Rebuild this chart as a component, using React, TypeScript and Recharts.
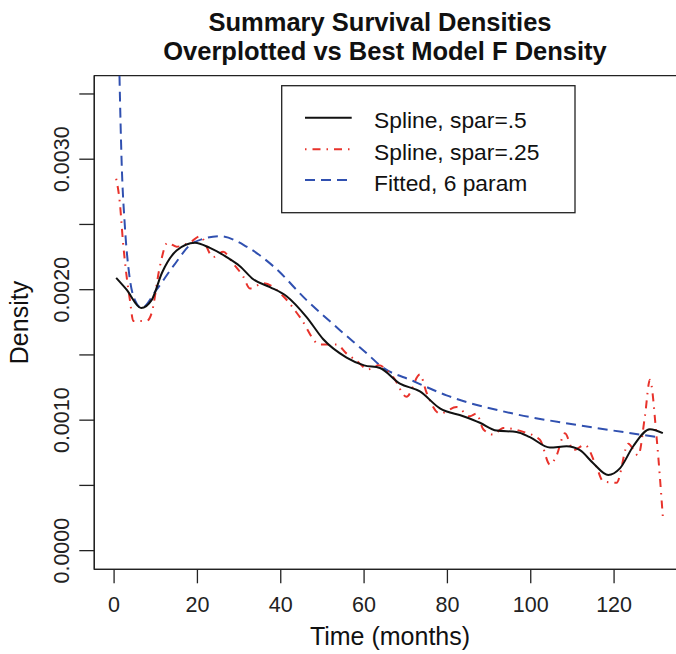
import { Line, LineChart, ReferenceArea, XAxis, YAxis } from "recharts";

// months on the x axis, density on the y axis
const smoothT = [0.5, 3.0, 6.5, 9.0, 11.5, 15.0, 19.4, 23.0, 27.0, 30.2, 33.4, 37.4, 41.4, 46.2, 50.2, 55.8, 60.0, 63.8, 68.6, 73.4, 78.2, 83.8, 87.8, 91.8, 96.6, 99.8, 104.6, 108.6, 111.8, 115.0, 118.6, 121.4, 124.6, 128.6, 131.7];
const smoothV = [0.00209, 0.002, 0.00186, 0.00192, 0.00213, 0.0023, 0.00236, 0.00232, 0.00225, 0.00218, 0.00208, 0.00202, 0.00195, 0.00179, 0.00162, 0.00148, 0.00142, 0.0014, 0.00128, 0.00122, 0.00109, 0.00103, 0.00098, 0.00092, 0.00091, 0.00087, 0.00079, 0.0008, 0.00077, 0.00067, 0.00058, 0.00063, 0.0008, 0.00093, 0.0009];

const roughT = [0.5, 1.4, 2.1, 2.9, 3.8, 4.6, 7.8, 9.0, 11.0, 12.8, 15.0, 18.6, 20.6, 23.8, 26.2, 28.6, 31.0, 32.6, 35.8, 40.6, 44.6, 49.4, 53.4, 55.8, 58.0, 61.0, 63.5, 67.0, 70.2, 73.4, 75.0, 78.2, 82.2, 85.4, 87.0, 88.6, 91.0, 93.4, 98.2, 102.2, 104.6, 106.2, 108.2, 110.2, 113.0, 115.8, 117.4, 120.6, 123.4, 125.8, 127.4, 128.6, 130.2, 131.7];
const roughV = [0.00285, 0.00266, 0.00238, 0.00213, 0.00192, 0.00176, 0.00176, 0.00182, 0.00218, 0.00236, 0.00233, 0.00237, 0.00241, 0.00225, 0.00229, 0.0022, 0.0021, 0.00201, 0.00205, 0.00195, 0.00179, 0.00158, 0.00158, 0.00151, 0.00146, 0.00139, 0.00142, 0.00133, 0.00118, 0.00135, 0.00121, 0.00105, 0.0011, 0.00103, 0.00105, 0.00093, 0.00089, 0.00094, 0.00091, 0.00085, 0.00066, 0.00073, 0.0009, 0.00077, 0.00081, 0.00064, 0.00053, 0.00052, 0.00082, 0.00073, 0.00103, 0.00131, 0.00087, 0.00026];

const fittedT = [0.8, 1.3, 1.8, 2.6, 3.7, 5.0, 6.6, 10.2, 14.2, 19.0, 25.4, 31.8, 38.2, 46.2, 54.2, 61.4, 63.8, 71.8, 79.8, 95.8, 111.8, 130.6];
const fittedV = [0.0045, 0.00363, 0.00299, 0.00248, 0.0021, 0.00192, 0.00186, 0.002, 0.00218, 0.00236, 0.00241, 0.00233, 0.00218, 0.00192, 0.00169, 0.00149, 0.00142, 0.0013, 0.00119, 0.00105, 0.00096, 0.00087];

const xTicks = [0, 20, 40, 60, 80, 100, 120];
const yTicks = [0, 0.0005, 0.001, 0.0015, 0.002, 0.0025, 0.003, 0.0035];
const yLabelled = ["0.0000", "", "0.0010", "", "0.0020", "", "0.0030", ""];

const legendLabels = ["Spline, spar=.5", "Spline, spar=.25", "Fitted, 6 param"];

const X_DOMAIN: [number, number] = [-4.75, 136.95];
const Y_DOMAIN: [number, number] = [-0.000143, 0.00364];

const FONT = "'Liberation Sans', Arial, Helvetica, sans-serif";
const RED = "#e8322b";
const BLUE = "#3050b0";

const toRows = (t: number[], v: number[]) => t.map((x, i) => ({ t: x, v: v[i] }));

function XTick({ x, y, payload }: any) {
  return (
    <text x={x} y={y + 29} textAnchor="middle" fontSize={21.5} fontFamily={FONT} fill="#222">
      {payload.value}
    </text>
  );
}

function YTick({ x, y, payload, index }: any) {
  const label = yLabelled[index] ?? "";
  if (!label) return null;
  const bx = x - 10;
  return (
    <text x={bx} y={y} transform={`rotate(-90 ${bx} ${y})`} textAnchor="middle" fontSize={21.5} fontFamily={FONT} fill="#222">
      {label}
    </text>
  );
}

export default function App() {
  const smooth = toRows(smoothT, smoothV);
  const rough = toRows(roughT, roughV);
  const fitted = toRows(fittedT, fittedV);
  const legendY = [117.7, 149.3, 180];
  const legendStyle = [
    { stroke: "#111", dash: undefined },
    { stroke: RED, dash: "1.5 6 8 6" },
    { stroke: BLUE, dash: "10 6" },
  ];

  return (
    <div style={{ position: "fixed", left: 0, top: 0, width: 676, height: 654, overflow: "hidden", background: "#fff" }}>
      <LineChart width={700} height={654} margin={{ top: 75.7, right: 15.3, bottom: 0, left: 0 }}>
        <XAxis
          type="number"
          dataKey="t"
          domain={X_DOMAIN}
          ticks={xTicks}
          allowDataOverflow
          height={84.7}
          tickSize={14}
          tickMargin={0}
          tick={<XTick />}
          stroke="#222"
          strokeWidth={1.3}
        />
        <YAxis
          type="number"
          dataKey="v"
          domain={Y_DOMAIN}
          ticks={yTicks}
          allowDataOverflow
          width={94.3}
          tickSize={15}
          tickMargin={0}
          tick={<YTick />}
          stroke="#222"
          strokeWidth={1.3}
        />
        <ReferenceArea x1={X_DOMAIN[0]} x2={X_DOMAIN[1]} y1={Y_DOMAIN[0]} y2={Y_DOMAIN[1]} ifOverflow="visible" fill="none" stroke="#222" strokeWidth={1.3} />
        <Line data={fitted} dataKey="v" type="monotone" stroke={BLUE} strokeWidth={2} strokeDasharray="10 6" dot={false} isAnimationActive={false} />
        <Line data={rough} dataKey="v" type="monotone" stroke={RED} strokeWidth={2} strokeDasharray="1.5 6 8 6" dot={false} isAnimationActive={false} />
        <Line data={smooth} dataKey="v" type="monotone" stroke="#111" strokeWidth={2} dot={false} isAnimationActive={false} />
      </LineChart>

      <svg width={676} height={654} style={{ position: "absolute", left: 0, top: 0, pointerEvents: "none" }} fontFamily={FONT}>
        <text x={380} y={31} textAnchor="middle" fontSize={25.5} fontWeight="bold" fill="#111">
          Summary Survival Densities
        </text>
        <text x={385} y={60} textAnchor="middle" fontSize={25.5} fontWeight="bold" fill="#111">
          Overplotted vs Best Model F Density
        </text>
        <text x={390} y={645} textAnchor="middle" fontSize={25} fill="#111">
          Time (months)
        </text>
        <text x={28} y={322.5} transform="rotate(-90 28 322.5)" textAnchor="middle" fontSize={25} fill="#111">
          Density
        </text>

        <rect x={281.7} y={85.7} width={293.3} height={127} fill="#fff" stroke="#222" strokeWidth={1.3} />
        {legendLabels.map((label, i) => (
          <g key={label}>
            <line x1={305} x2={351.7} y1={legendY[i]} y2={legendY[i]} stroke={legendStyle[i].stroke} strokeWidth={2} strokeDasharray={legendStyle[i].dash} />
            <text x={374} y={legendY[i] + 10.5} fontSize={22.8} fill="#111">
              {label}
            </text>
          </g>
        ))}
      </svg>
    </div>
  );
}
